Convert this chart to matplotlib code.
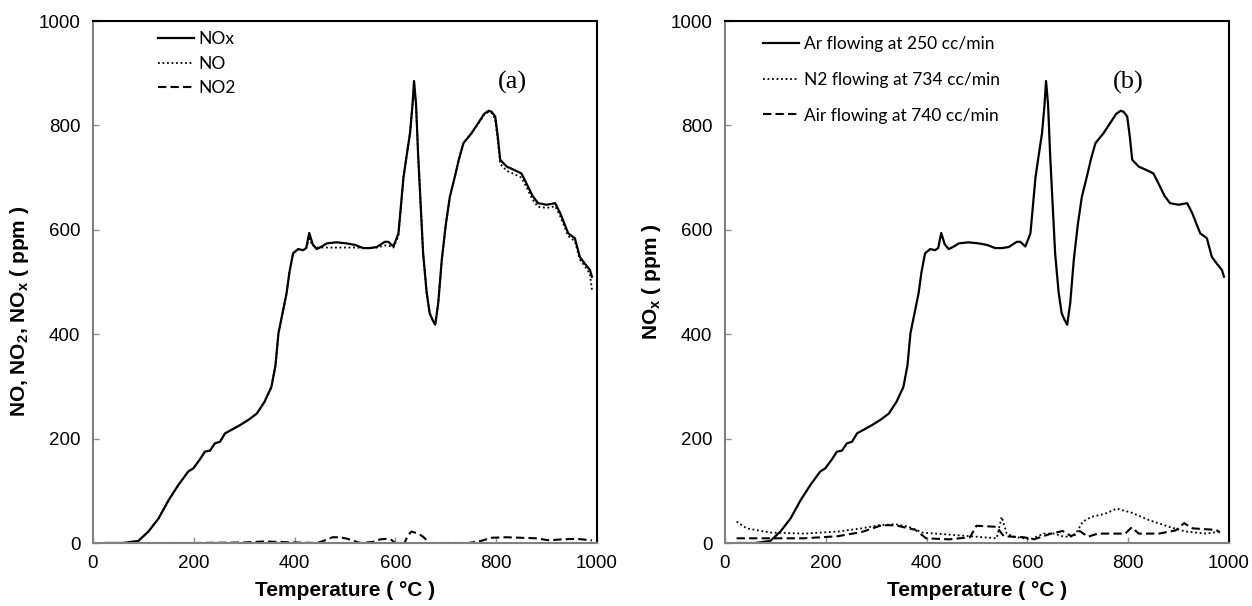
import matplotlib
matplotlib.use("Agg")
import matplotlib.pyplot as plt

plt.rcParams['font.family'] = ['Liberation Sans', 'DejaVu Sans']
plt.rcParams['mathtext.fontset'] = 'custom'
plt.rcParams['mathtext.rm'] = 'Liberation Sans:bold'
plt.rcParams['mathtext.default'] = 'rm'

# Temperature grid shared by NOx / NO (panel a) and Ar (panel b)
temp = [25, 60, 90, 110, 130, 150, 170, 189, 199, 212,
        222, 232, 242, 252, 262, 277, 292, 310, 325, 340,
        354, 362, 368, 376, 384, 390, 397, 407, 417, 423,
        429, 436, 444, 454, 464, 483, 503, 520, 536, 550,
        563, 579, 586, 596, 606, 612, 616, 622, 629, 634,
        637, 641, 645, 650, 655, 662, 668, 674, 679, 685,
        692, 700, 708, 718, 726, 735, 751, 768, 776, 785,
        791, 798, 803, 808, 821, 835, 850, 860, 872, 883,
        900, 917, 927, 943, 956, 966, 976, 986, 990]

nox = [0, 0, 4, 22, 47, 82, 112, 137, 143, 160,
       175, 177, 191, 194, 210, 218, 226, 237, 248, 270,
       299, 340, 402, 440, 478, 520, 555, 563, 561, 565,
       594, 572, 563, 568, 574, 576, 574, 571, 565, 565,
       567, 577, 577, 568, 593, 657, 700, 740, 785, 840,
       885, 840, 746, 650, 555, 480, 440, 427, 418, 460,
       542, 610, 663, 702, 735, 766, 785, 810, 822, 828,
       826, 817, 780, 734, 721, 715, 708, 689, 665, 651,
       648, 651, 632, 593, 584, 548, 535, 523, 510]

no = [0, 0, 4, 22, 47, 82, 112, 137, 143, 160,
      175, 177, 191, 194, 210, 218, 226, 237, 248, 270,
      299, 340, 402, 440, 478, 520, 555, 563, 561, 565,
      583, 570, 566, 566, 566, 566, 566, 566, 565, 565,
      566, 570, 570, 566, 588, 655, 700, 740, 785, 840,
      880, 838, 746, 650, 555, 480, 440, 427, 418, 460,
      542, 610, 663, 702, 735, 766, 785, 808, 820, 826,
      824, 812, 772, 726, 713, 707, 700, 682, 658, 644,
      642, 645, 626, 588, 578, 543, 530, 515, 485]

no2_t = [25, 100, 200, 300, 340, 400, 445, 460, 475, 490, 505, 530, 555, 570, 582, 592, 600,
         618, 625, 632, 645, 655, 668, 700, 745, 770, 790, 820, 850, 880, 905, 930, 960, 990]
no2 = [0, 0, 0, 1, 3, 1, 0, 5, 11, 11, 8, 0, 2, 7, 8, 6, 0,
       0, 15, 22, 18, 12, 0, 0, 0, 4, 10, 11, 10, 9, 5, 7, 8, 5]

# Panel b: Ar curve is the same NOx record; N2 and air runs
ar = nox
n2_t = [23, 43, 90, 157, 224, 271, 305, 338, 365, 392, 459, 526, 539, 549, 559, 573,
        606, 633, 653, 673, 693, 710, 727, 754, 777, 807, 841, 881, 914, 955, 982]
n2 = [41, 28, 20, 18, 22, 28, 34, 36, 31, 20, 15, 10, 9, 50, 18, 12,
      7, 18, 18, 12, 13, 41, 50, 56, 66, 58, 44, 31, 22, 18, 22]
air_t = [23, 157, 224, 271, 311, 338, 378, 399, 445, 486, 499, 539, 553, 593, 613,
         647, 670, 687, 704, 720, 740, 794, 807, 821, 861, 894, 911, 928, 975, 982]
air = [9, 9, 13, 21, 34, 34, 25, 9, 7, 11, 33, 31, 13, 11, 7,
       18, 23, 13, 23, 12, 18, 18, 30, 18, 18, 24, 38, 28, 25, 20]

fig = plt.figure(figsize=(12.52, 6.06), dpi=100)
ax1 = fig.add_axes([93 / 1252, 63 / 606, 504 / 1252, 522 / 606])
ax2 = fig.add_axes([725 / 1252, 63 / 606, 504 / 1252, 522 / 606])

dot = (0, (1, 1.5))
dash = (0, (4, 2))

ax1.plot(temp, nox, color='black', lw=1.6, label='NOx')
ax1.plot(temp, no, color='black', lw=1.3, ls=dot, label='NO')
ax1.plot(no2_t, no2, color='black', lw=1.5, ls=dash, label='NO2')

ax2.plot(temp, ar, color='black', lw=1.6, label='Ar flowing at 250 cc/min')
ax2.plot(n2_t, n2, color='black', lw=1.3, ls=dot, label='N2 flowing at 734 cc/min')
ax2.plot(air_t, air, color='black', lw=1.5, ls=dash, label='Air flowing at 740 cc/min')

for ax in (ax1, ax2):
    ax.set_xlim(0, 1000)
    ax.set_ylim(0, 1000)
    ax.set_xticks([0, 200, 400, 600, 800, 1000])
    ax.set_yticks([0, 200, 400, 600, 800, 1000])
    ax.tick_params(direction='in', length=4, width=1, color='#909090',
                   labelsize=13.5, pad=9)
    for s in ('top', 'right'):
        ax.spines[s].set_color('black')
        ax.spines[s].set_linewidth(1.5)
    for s in ('left', 'bottom'):
        ax.spines[s].set_color('#808080')
        ax.spines[s].set_linewidth(1.5)
    ax.set_xlabel('Temperature ( °C )', fontsize=15, fontweight='bold', labelpad=6)

ax1.set_ylabel('NO, NO$_2$, NO$_x$ ( ppm )', fontsize=15, fontweight='bold')
ax1.yaxis.set_label_coords(-0.123, 0.443)
ax2.set_ylabel('NO$_x$ ( ppm )', fontsize=15, fontweight='bold')
ax2.yaxis.set_label_coords(-0.123, 0.5)

leg_font = {'family': 'Lato', 'size': 12.5}
ax1.legend(loc='upper left', bbox_to_anchor=(0.129, 0.981), frameon=False,
           prop=leg_font, handlelength=2.1, handletextpad=0.25,
           labelspacing=0.5, borderpad=0, borderaxespad=0)
ax2.legend(loc='upper left', bbox_to_anchor=(0.075, 0.972), frameon=False,
           prop=leg_font, handlelength=2.1, handletextpad=0.25,
           labelspacing=1.15, borderpad=0, borderaxespad=0)

ax1.text(0.833, 0.883, '(a)', transform=ax1.transAxes, ha='center', va='center',
         fontsize=19, family='Liberation Serif')
ax2.text(0.8, 0.883, '(b)', transform=ax2.transAxes, ha='center', va='center',
         fontsize=19, family='Liberation Serif')

fig.savefig('out.png', dpi=100)
